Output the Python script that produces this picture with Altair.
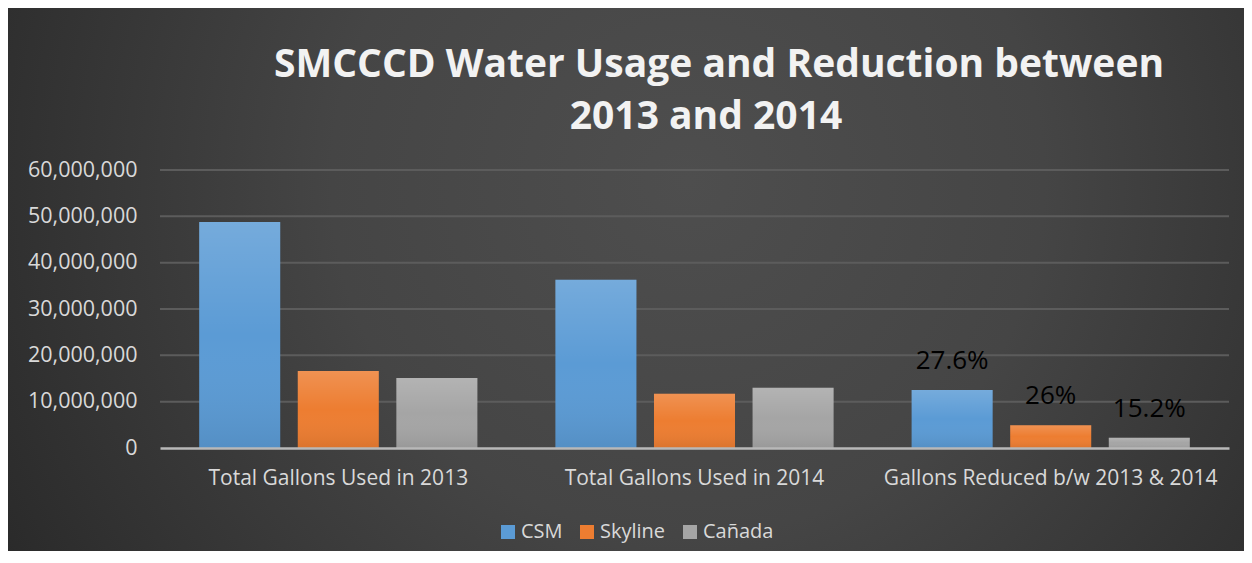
import altair as alt
import pandas as pd

title_lines = ["SMCCCD Water Usage and Reduction between", "2013 and 2014"]
categories = ["Total Gallons Used in 2013", "Total Gallons Used in 2014", "Gallons Reduced b/w 2013 & 2014"]
series = ["CSM", "Skyline", "Cañada"]
csm = [48800000, 36300000, 12500000]
skyline = [16600000, 11700000, 4900000]
canada = [15100000, 13000000, 2200000]
pct_labels = ["27.6%", "26%", "15.2%"]
y_ticks = [0, 10000000, 20000000, 30000000, 40000000, 50000000, 60000000]
colors = ["#5b9bd5", "#ed7d31", "#a5a5a5"]

rows = []
for i, cat in enumerate(categories):
    for j, (s, vals) in enumerate(zip(series, [csm, skyline, canada])):
        lab = pct_labels[j] if i == 2 else ""
        rows.append({"category": cat, "series": s, "value": vals[i], "label": lab})
df = pd.DataFrame(rows)

W, H = 1069, 278
PL, PR, PT, PB = 152, 15, 162, 103
FONT = "Open Sans"
LBL = "#d9d9d9"
YDOM = [0, 60000000]

x_axis = alt.Axis(title=None, labelAngle=0, labelFont=FONT, labelFontSize=21,
                  labelColor=LBL, labelPadding=19, labelLimit=500, domainColor="#b8b8b8",
                  domainWidth=2.5, ticks=False, grid=False, zindex=1)
y_axis = alt.Axis(title=None, values=y_ticks, format=",.0f", labelFont=FONT,
                  labelFontSize=21.5, labelColor=LBL, labelPadding=23,
                  domain=False, ticks=False, grid=False, zindex=1)
x_scale = alt.Scale(paddingInner=0.219, paddingOuter=0.11)
xo_scale = alt.Scale(paddingInner=0.178, paddingOuter=0)
y_scale = alt.Scale(domain=YDOM)


def X():
    return alt.X("category:N", sort=categories, scale=x_scale, axis=x_axis)


def XO():
    return alt.XOffset("series:N", sort=series, scale=xo_scale)


def Y(field="value:Q"):
    return alt.Y(field, scale=y_scale, axis=y_axis)


bg = alt.Chart(pd.DataFrame({"k": [0]})).mark_rect(
    fill={"gradient": "radial", "x1": 0.55, "y1": 0.42, "r1": 0,
          "x2": 0.55, "y2": 0.42, "r2": 0.72,
          "stops": [{"offset": 0, "color": "#4e4e4e"},
                    {"offset": 0.4, "color": "#454545"},
                    {"offset": 1, "color": "#232323"}]},
    stroke=None,
).encode(x=alt.value(-PL), x2=alt.value(W + PR), y=alt.value(-PT), y2=alt.value(H + PB))

grid = alt.Chart(pd.DataFrame({"value": y_ticks[1:]})).mark_rule(
    color="#5c5c5c", strokeWidth=2
).encode(y=Y())

base = alt.Chart(df)

bars = base.mark_bar().encode(
    x=X(), xOffset=XO(), y=Y(),
    color=alt.Color("series:N", scale=alt.Scale(domain=series, range=colors),
                    legend=alt.Legend(title=None, orient="none", legendX=338, legendY=352,
                                      direction="horizontal", symbolType="square",
                                      symbolSize=196, symbolStrokeWidth=0,
                                      labelFont=FONT, labelFontSize=20, labelColor=LBL,
                                      labelOffset=3, columnPadding=14, zindex=1)),
)

shade = base.mark_bar(
    fill={"gradient": "linear", "x1": 0, "y1": 0, "x2": 0, "y2": 1,
          "stops": [{"offset": 0, "color": "rgba(255,255,255,0.16)"},
                    {"offset": 0.5, "color": "rgba(255,255,255,0.0)"},
                    {"offset": 1, "color": "rgba(0,0,0,0.08)"}]},
).encode(x=X(), xOffset=XO(), y=Y())

labels = base.transform_filter("datum.label != ''").mark_text(
    font=FONT, fontSize=26, color="#000000", dy=-21, baseline="alphabetic"
).encode(x=X(), xOffset=XO(), y=Y(), text="label:N")

title_style = dict(font=FONT, fontSize=39, fontWeight="bold", color="#f2f2f2",
                   align="center", baseline="alphabetic")
t1 = alt.Chart(pd.DataFrame({"s": [title_lines[0]]})).mark_text(**title_style).encode(
    x=alt.value(559), y=alt.value(-93), text="s:N")
t2 = alt.Chart(pd.DataFrame({"s": [title_lines[1]]})).mark_text(**title_style).encode(
    x=alt.value(546), y=alt.value(-41), text="s:N")

chart = alt.layer(bg, grid, bars, shade, labels, t1, t2).properties(
    width=W, height=H,
    autosize=alt.AutoSizeParams(type="none"),
    padding={"left": PL, "right": PR, "top": PT, "bottom": PB},
).configure(background="#333333").configure_view(stroke=None)

chart.save("out.html", embed_options={"renderer": "svg", "actions": False})
